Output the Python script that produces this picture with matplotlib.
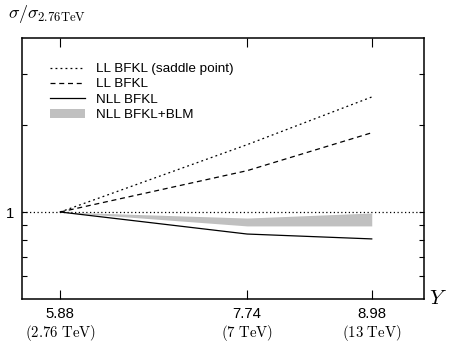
import matplotlib
matplotlib.use('Agg')
import matplotlib.pyplot as plt
from matplotlib.ticker import FixedLocator, FixedFormatter, NullLocator

# ---- data ----
Y = [5.88, 7.74, 8.98]
energy_labels = ['2.76', '7', '13']
ll_saddle = [1.0, 1.71, 2.50]
ll_bfkl = [1.0, 1.39, 1.88]
nll_bfkl = [1.0, 0.839, 0.807]
blm_low = [1.0, 0.895, 0.895]
blm_high = [1.0, 0.953, 0.992]
ytick_vals = [0.6, 0.7, 0.8, 0.9, 1, 2, 3]
ytick_labels = ['', '', '', '', '1', '', '']

plt.rcParams['font.family'] = ['Liberation Sans', 'DejaVu Sans']
plt.rcParams['mathtext.fontset'] = 'cm'

fig = plt.figure(figsize=(4.54, 3.44), dpi=100)
ax = fig.add_axes([22/454, 1-299/344, 402/454, 261/344])

ax.axhline(1.0, color='black', lw=0.9, ls=(0, (1, 2)), zorder=1)
ax.fill_between(Y, blm_low, blm_high, color='#c0c0c0', lw=0, label='NLL BFKL+BLM', zorder=2)
l1, = ax.plot(Y, ll_saddle, color='black', lw=0.9, ls=(0, (1.5, 2.5)), label='LL BFKL (saddle point)', zorder=3)
l2, = ax.plot(Y, ll_bfkl, color='black', lw=0.9, ls=(0, (4, 3)), label='LL BFKL', zorder=3)
l3, = ax.plot(Y, nll_bfkl, color='black', lw=0.9, ls='-', label='NLL BFKL', zorder=3)

ax.set_yscale('log')
ax.set_xlim(5.5, 9.5)
ax.set_ylim(0.5, 4.0)

ax.yaxis.set_major_locator(FixedLocator(ytick_vals))
ax.yaxis.set_major_formatter(FixedFormatter(ytick_labels))
ax.yaxis.set_minor_locator(NullLocator())

xlabels = [f"{y:.2f}\n$({e}\\ \\mathrm{{TeV}})$" for y, e in zip(Y, energy_labels)]
ax.set_xticks(Y)
ax.set_xticklabels(xlabels, fontsize=10.7, linespacing=1.15)

ax.tick_params(axis='x', direction='in', length=6.5, width=0.8, top=True, pad=6)
ax.tick_params(axis='y', direction='in', length=3.8, width=0.8, right=True, pad=6, labelsize=10.7)
for s in ax.spines.values():
    s.set_linewidth(1.1)

ax.text(1.012, 0.0, '$Y$', transform=ax.transAxes, fontsize=15, ha='left', va='center')
fig.text(8/454, 1-14/344, r'$\sigma/\sigma_{2.76\mathrm{TeV}}$', fontsize=13, ha='left', va='center')

handles = [l1, l2, l3, ax.collections[0]]
leg = ax.legend(handles=handles, loc='upper left', bbox_to_anchor=((50-22)/402, (299-63)/261),
                frameon=False, fontsize=9.7, handlelength=2.6, handletextpad=0.8,
                labelspacing=0.25, borderpad=0, borderaxespad=0, handleheight=0.6)

fig.savefig('out.png', dpi=100)
